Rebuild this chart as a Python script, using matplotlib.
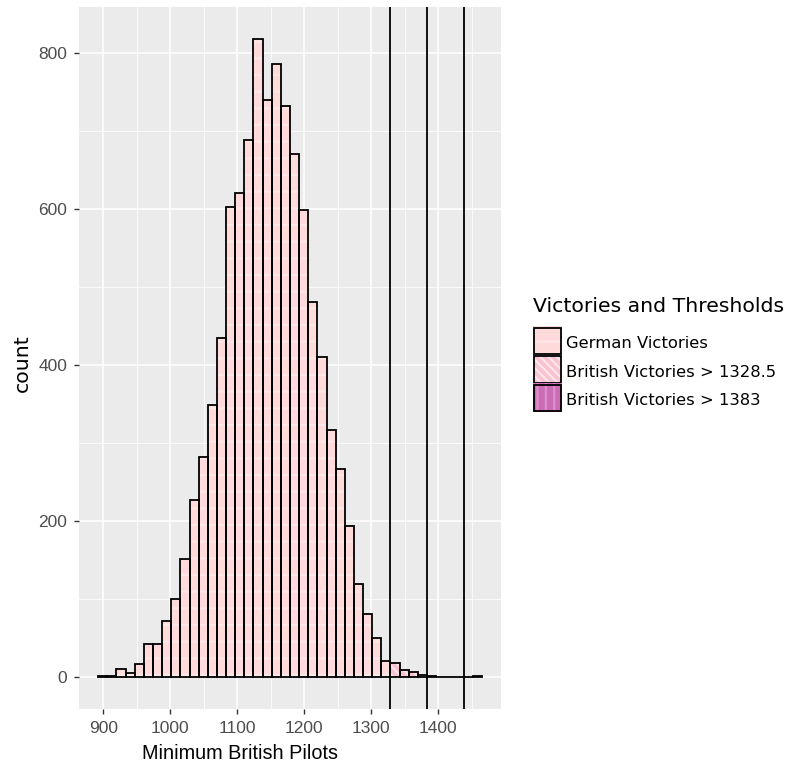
import numpy as np
import matplotlib
matplotlib.use("Agg")
import matplotlib.pyplot as plt
from matplotlib.patches import Rectangle

# histogram of simulated minimum pilot counts
bin_start = 892.5
bin_width = 13.625
counts = [1, 2, 11, 5, 17, 42, 43, 72, 100, 152,
          227, 282, 349, 435, 603, 621, 688, 818, 740, 786,
          732, 671, 599, 481, 410, 317, 267, 194, 119, 81,
          50, 21, 18, 9, 7, 3, 1, 0, 0, 0,
          0, 1]
thresholds = [1328.5, 1383, 1437.5]
group_labels = ["German Victories", "British Victories > 1328.5", "British Victories > 1383"]

counts = np.array(counts)
left = bin_start + bin_width * np.arange(len(counts))

# fill / stripe colours for each group
fills = ["#FFDADA", "#F8C3D0", "#CC6CB6"]
stripes = ["#FFE6E6", "#FFE4EC", "#DC8FCB"]
hatches = ["-", "\\\\\\\\", "||"]

group = np.zeros(len(counts), dtype=int)
group[left >= thresholds[0] - 1e-6] = 1
group[left >= thresholds[1] - 1e-6] = 2

plt.rcParams["hatch.linewidth"] = 1.6

fig = plt.figure(figsize=(7.87, 7.64), dpi=100)
W, H = 787, 764
ax = fig.add_axes([79 / W, 1 - 709 / H, (501 - 79) / W, (709 - 7) / H])
ax.set_facecolor("#EBEBEB")

for g in range(3):
    m = group == g
    if m.any():
        ax.bar(left[m], counts[m], width=bin_width, align="edge",
               color=fills[g], edgecolor=stripes[g], hatch=hatches[g],
               linewidth=0, zorder=2)
ax.bar(left, counts, width=bin_width, align="edge", fill=False,
       edgecolor="black", linewidth=1.3, zorder=3)

for t in thresholds:
    ax.axvline(t, color="black", linewidth=1.3, zorder=4)

lo, hi = left[0], left[-1] + bin_width
pad = 0.05 * (hi - lo)
ax.set_xlim(lo - pad, hi + pad)
ax.set_ylim(-0.05 * counts.max(), 1.05 * counts.max())

ax.set_xticks([900, 1000, 1100, 1200, 1300, 1400])
ax.set_xticks([950, 1050, 1150, 1250, 1350, 1450], minor=True)
ax.set_yticks([0, 200, 400, 600, 800])
ax.set_yticks([100, 300, 500, 700], minor=True)
ax.grid(which="major", color="white", linewidth=1.1, zorder=0)
ax.grid(which="minor", color="white", linewidth=0.55, zorder=0)
ax.set_axisbelow(True)
for s in ax.spines.values():
    s.set_visible(False)
ax.tick_params(which="major", length=3.5, width=1, color="#333333",
               labelcolor="#4D4D4D", labelsize=12.5, pad=4.8)
ax.tick_params(which="minor", length=0)
for lab in ax.get_xticklabels() + ax.get_yticklabels():
    lab.set_family("Liberation Sans")

ax.set_xlabel("Minimum British Pilots", fontsize=14.3, family="Liberation Sans", labelpad=6)
ax.xaxis.label.set_x(0.382)
ax.set_ylabel("count", fontsize=14.7, family="DejaVu Sans", labelpad=4.5)
ax.yaxis.label.set_y(0.492)

# legend drawn by hand
fig.text(533 / W, 1 - 312 / H, "Victories and Thresholds", fontsize=14.7,
         family="DejaVu Sans", va="baseline", ha="left")
key_w, key_h = 29, 28.5
for i, lab in enumerate(group_labels):
    y0 = 326.5 + i * key_h
    r = Rectangle((533 / W, 1 - (y0 + key_h) / H), key_w / W, key_h / H,
                  transform=fig.transFigure, facecolor=fills[i],
                  edgecolor=stripes[i], hatch=hatches[i], linewidth=0)
    fig.patches.append(r)
    fig.patches.append(Rectangle((534 / W, 1 - (y0 + key_h - 1) / H), (key_w - 2) / W, (key_h - 2) / H,
                                 transform=fig.transFigure, fill=False,
                                 edgecolor="black", linewidth=1.3))
    fig.text(566 / W, 1 - (y0 + 21.8) / H, lab, fontsize=11.8,
             family="DejaVu Sans", va="baseline", ha="left")

fig.savefig("out.png", dpi=100)
